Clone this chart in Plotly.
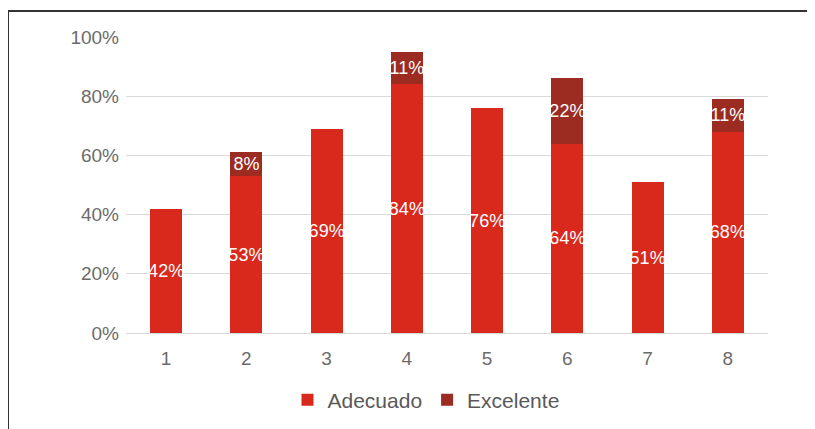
import plotly.graph_objects as go

categories = ["1", "2", "3", "4", "5", "6", "7", "8"]
adecuado = [42, 53, 69, 84, 76, 64, 51, 68]
excelente = [0, 8, 0, 11, 0, 22, 0, 11]
y_ticks = [0, 20, 40, 60, 80, 100]
y_tick_labels = ["0%", "20%", "40%", "60%", "80%", "100%"]

# the page body has an 8px margin, so figure coords = viewport coords - 8
W, H = 815, 429
L, T = 118, 29
pw, ph = 642, 296
R, B = W - L - pw, H - T - ph

def labels(vals):
    return [f"{v}%" if v else "" for v in vals]

font = "Liberation Sans, Arial, sans-serif"
fig = go.Figure()
for name, vals, col in [("Adecuado", adecuado, "#d9291d"), ("Excelente", excelente, "#9c2b21")]:
    fig.add_bar(x=categories, y=vals, name=name, marker_color=col,
                text=labels(vals), textposition="inside", insidetextanchor="middle",
                textangle=0, constraintext="none",
                textfont=dict(color="white", size=18, family=font),
                marker_line_width=0)

bx = (0 - L) / pw
by = 1 + (T - 3) / ph
fig.add_shape(type="line", xref="paper", yref="paper", x0=bx, x1=(W - L) / pw, y0=by, y1=by,
              line=dict(color="#333333", width=2))
fig.add_shape(type="line", xref="paper", yref="paper", x0=bx, x1=bx, y0=by, y1=-(B + 5) / ph,
              line=dict(color="#333333", width=2))

fig.update_layout(
    width=W, height=H, barmode="stack", bargap=0.6,
    margin=dict(l=L, r=R, t=T, b=B),
    paper_bgcolor="white", plot_bgcolor="white",
    font=dict(family=font, color="#666666", size=17),
    showlegend=True,
    legend=dict(orientation="h", x=(418 - L) / pw, xanchor="center", y=(325 - 392) / ph,
                yanchor="middle", font=dict(size=21, color="#595959"), traceorder="normal",
                itemwidth=30),
    yaxis=dict(range=[0, 100], tickvals=y_ticks, ticktext=y_tick_labels, showgrid=True,
               gridcolor="#d9d9d9", gridwidth=1, zeroline=False, showline=False,
               ticks="", ticklabelstandoff=6, tickfont=dict(size=19, color="#6b6b6b")),
    xaxis=dict(showgrid=False, showline=True, linecolor="#d9d9d9", ticks="",
               ticklabelstandoff=8, tickfont=dict(size=19, color="#6b6b6b")),
)
fig.write_html("out.html")
